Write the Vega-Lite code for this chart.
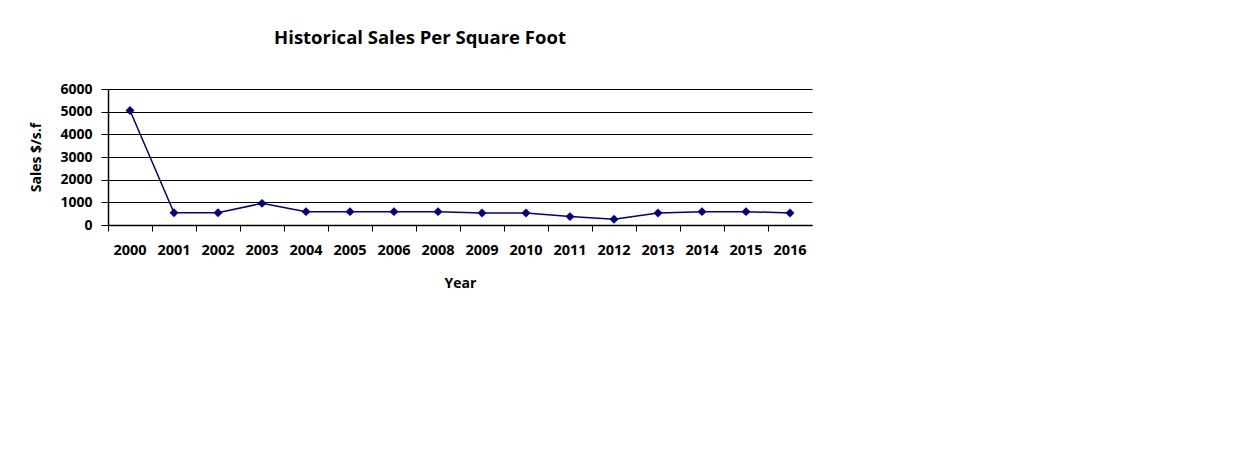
{
  "$schema": "https://vega.github.io/schema/vega-lite/v6.json",
  "width": 704,
  "height": 136,
  "autosize": "none",
  "padding": {"left": 108, "top": 89, "right": 421, "bottom": 246},
  "background": "white",
  "config": {
    "view": {"stroke": null},
    "font": "Open Sans"
  },
  "title": {
    "text": "Historical Sales Per Square Foot",
    "font": "Open Sans",
    "fontSize": 18.5,
    "fontWeight": "bold",
    "color": "black",
    "anchor": "middle",
    "frame": "group",
    "dx": -40,
    "offset": 35
  },
  "data": {
    "values": [
      {"Year": "2000", "Sales": 5050},
      {"Year": "2001", "Sales": 540},
      {"Year": "2002", "Sales": 540},
      {"Year": "2003", "Sales": 955},
      {"Year": "2004", "Sales": 590},
      {"Year": "2005", "Sales": 590},
      {"Year": "2006", "Sales": 590},
      {"Year": "2008", "Sales": 590},
      {"Year": "2009", "Sales": 530},
      {"Year": "2010", "Sales": 530},
      {"Year": "2011", "Sales": 370},
      {"Year": "2012", "Sales": 250},
      {"Year": "2013", "Sales": 530},
      {"Year": "2014", "Sales": 590},
      {"Year": "2015", "Sales": 590},
      {"Year": "2016", "Sales": 530}
    ]
  },
  "encoding": {
    "x": {
      "field": "Year",
      "type": "ordinal",
      "scale": {"type": "band", "paddingInner": 0, "paddingOuter": 0},
      "axis": {
        "title": "Year",
        "labelAngle": 0,
        "labelFont": "Open Sans",
        "labelFontSize": 14.5,
        "labelFontWeight": "bold",
        "labelColor": "black",
        "labelPadding": 12,
        "bandPosition": 0,
        "tickSize": 6,
        "tickColor": "black",
        "domainColor": "black",
        "domainWidth": 1.5,
        "titleFont": "Open Sans",
        "titleFontSize": 14,
        "titleFontWeight": "bold",
        "titleColor": "black",
        "titlePadding": 20,
        "grid": false
      }
    },
    "y": {
      "field": "Sales",
      "type": "quantitative",
      "scale": {"domain": [0, 6000], "nice": false},
      "axis": {
        "title": "Sales $/s.f",
        "values": [0, 1000, 2000, 3000, 4000, 5000, 6000],
        "format": "d",
        "labelFont": "Open Sans",
        "labelFontSize": 14,
        "labelFontWeight": "bold",
        "labelColor": "black",
        "labelPadding": 9,
        "tickSize": 7,
        "tickColor": "black",
        "domainColor": "black",
        "domainWidth": 1.5,
        "grid": true,
        "gridColor": "black",
        "gridWidth": 1.2,
        "gridOpacity": 1,
        "titleFont": "Open Sans",
        "titleFontSize": 14,
        "titleFontWeight": "bold",
        "titleColor": "black",
        "titlePadding": 16
      }
    }
  },
  "layer": [
    {
      "mark": {"type": "line", "color": "#000080", "strokeWidth": 1.5}
    },
    {
      "mark": {"type": "point", "shape": "diamond", "filled": true, "color": "#000080", "opacity": 1, "size": 80}
    }
  ]
}
